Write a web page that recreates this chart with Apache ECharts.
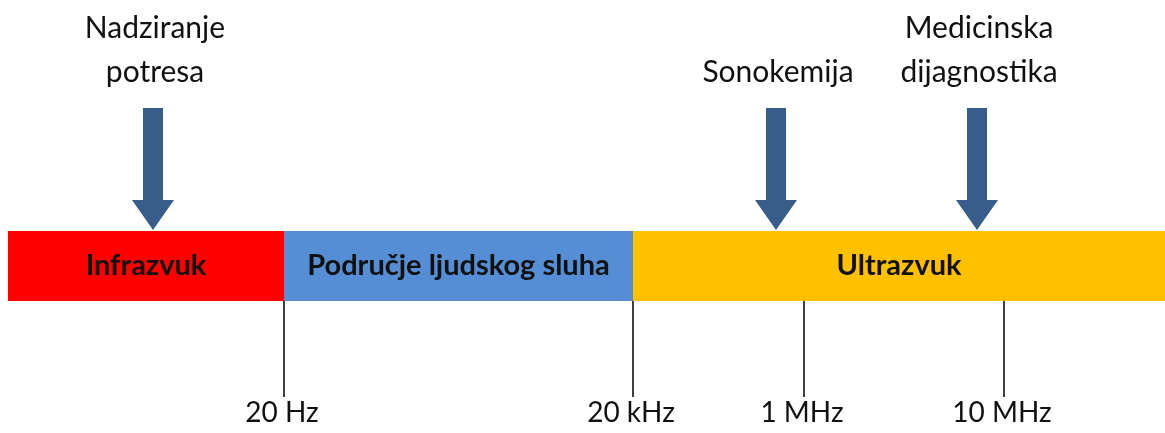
<!DOCTYPE html>
<html>
<head>
<meta charset="utf-8">
<script src="https://cdn.jsdelivr.net/npm/echarts@6/dist/echarts.min.js"></script>
<style>
  html, body { margin: 0; padding: 0; background: #fff; }
  #chart { width: 1165px; height: 433px; }
</style>
</head>
<body>
<div id="chart"></div>
<script>
// schematic frequency strip, x in layout units (not a true log scale)
const bandNames = ['Infrazvuk', 'Područje ljudskog sluha', 'Ultrazvuk'];
const bandStart = [8, 284, 633];
const bandEnd = [284, 633, 1165];
const bandColors = ['#ff0000', '#558ed5', '#ffc000'];

const tickPos = [284, 633, 804, 1004];
const tickLabels = ['20 Hz', '20 kHz', '1 MHz', '10 MHz'];

const usePos = [153, 776, 977];
const useLabels = ['Nadziranje\npotresa', 'Sonokemija', 'Medicinska\ndijagnostika'];

const FONT = 'Lato, "Open Sans", sans-serif';
const BAR_TOP = 231, BAR_BOT = 301, TICK_BOT = 397;
const ARROW_TOP = 108, HEAD_Y = 200, TIP_Y = 230;

const chart = echarts.init(document.getElementById('chart'));

chart.setOption({
  animation: false,
  grid: { left: 0, right: 0, top: 0, bottom: 0 },
  xAxis: { type: 'value', min: 0, max: 1165, show: false },
  yAxis: { type: 'value', min: 0, max: 433, inverse: true, show: false },
  series: [
    {
      // coloured bands
      type: 'custom',
      data: bandNames.map((n, i) => [bandStart[i], bandEnd[i], i]),
      encode: { x: [0, 1] },
      renderItem: function (params, api) {
        const i = api.value(2);
        const p0 = api.coord([api.value(0), BAR_TOP]);
        const p1 = api.coord([api.value(1), BAR_BOT]);
        return {
          type: 'group',
          children: [
            {
              type: 'rect',
              shape: { x: p0[0], y: p0[1], width: p1[0] - p0[0], height: p1[1] - p0[1] },
              style: { fill: bandColors[i] }
            },
            {
              type: 'text',
              x: (p0[0] + p1[0]) / 2,
              y: (p0[1] + p1[1]) / 2,
              style: {
                text: bandNames[i],
                fill: '#111',
                font: 'bold 29px ' + FONT,
                align: 'center',
                verticalAlign: 'middle'
              }
            }
          ]
        };
      }
    },
    {
      // frequency ticks
      type: 'custom',
      data: tickPos.map((p, i) => [p, i]),
      encode: { x: 0 },
      renderItem: function (params, api) {
        const i = api.value(1);
        const a = api.coord([api.value(0), BAR_BOT]);
        const b = api.coord([api.value(0), TICK_BOT]);
        return {
          type: 'group',
          children: [
            {
              type: 'line',
              shape: { x1: a[0], y1: a[1], x2: b[0], y2: b[1] },
              style: { stroke: '#000', lineWidth: 1.5 }
            },
            {
              type: 'text',
              x: b[0] - 2,
              y: b[1] + 16,
              style: {
                text: tickLabels[i],
                fill: '#111',
                font: '28px ' + FONT,
                align: 'center',
                verticalAlign: 'middle'
              }
            }
          ]
        };
      }
    },
    {
      // application arrows
      type: 'custom',
      data: usePos.map((p, i) => [p, i]),
      encode: { x: 0 },
      renderItem: function (params, api) {
        const i = api.value(1);
        const x = api.coord([api.value(0), 0])[0];
        const top = api.coord([0, ARROW_TOP])[1];
        const head = api.coord([0, HEAD_Y])[1];
        const tip = api.coord([0, TIP_Y])[1];
        const sw = 10, hw = 21;
        return {
          type: 'group',
          children: [
            {
              type: 'polygon',
              shape: {
                points: [
                  [x - sw, top], [x + sw, top], [x + sw, head], [x + hw, head],
                  [x, tip], [x - hw, head], [x - sw, head]
                ]
              },
              style: { fill: '#385d8a' }
            },
            {
              type: 'text',
              x: x + 2,
              y: 94,
              style: {
                text: useLabels[i],
                fill: '#111',
                font: '30px ' + FONT,
                lineHeight: 44,
                align: 'center',
                verticalAlign: 'bottom'
              }
            }
          ]
        };
      }
    }
  ]
});
</script>
</body>
</html>
